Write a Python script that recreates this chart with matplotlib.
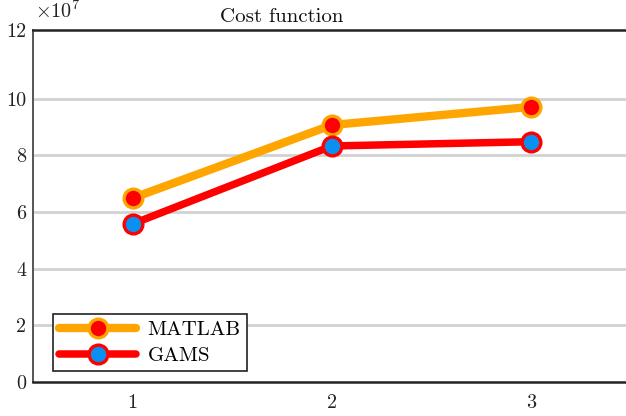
import matplotlib
matplotlib.use("Agg")
import matplotlib.pyplot as plt

plt.rcParams["font.family"] = ["cmr10", "DejaVu Serif"]
plt.rcParams["mathtext.fontset"] = "cm"
plt.rcParams["axes.unicode_minus"] = False

# cost per scenario, in units of 1e7
scenarios = [1, 2, 3]
matlab_cost = [6.49, 9.07, 9.71]
gams_cost = [5.58, 8.33, 8.48]
grid_ticks = [0, 2, 4, 6, 8, 10]
y_top = 12.42

ORANGE = "#FFA500"
RED = "#FF0000"
BLUE = "#0A90F0"

fig = plt.figure(figsize=(6.26, 4.16), dpi=100)
ax = fig.add_axes([0.0527, 0.0817, 0.955, 0.846])

ax.plot(scenarios, matlab_cost, color=ORANGE, lw=6, marker="o", ms=13.5,
        mfc=RED, mec=ORANGE, mew=2.4, solid_capstyle="round", label="MATLAB", zorder=3)
ax.plot(scenarios, gams_cost, color=RED, lw=5.4, marker="o", ms=13.5,
        mfc=BLUE, mec=RED, mew=2.4, solid_capstyle="round", label="GAMS", zorder=3)

ax.set_xlim(0.5, 3.5)
ax.set_ylim(0, y_top)
ax.set_xticks(scenarios)
ax.set_xticklabels([str(s) for s in scenarios])
ax.set_yticks(grid_ticks + [y_top])
ax.set_yticklabels([str(t) for t in grid_ticks] + ["12"])
ax.tick_params(length=0, labelsize=14.5, colors="#222222", pad=5)
ax.tick_params(axis="x", pad=9)

for t in grid_ticks[1:]:
    ax.axhline(t, color="#d2d2d2", lw=2, zorder=1)

ax.spines["right"].set_visible(False)
ax.spines["top"].set_color("#222222")
ax.spines["top"].set_linewidth(1.8)
ax.spines["bottom"].set_color("#222222")
ax.spines["bottom"].set_linewidth(1.8)
ax.spines["left"].set_color("#555555")
ax.spines["left"].set_linewidth(1.4)

leg = ax.legend(loc="lower left", bbox_to_anchor=(0.033, 0.031), fontsize=15,
                handlelength=3.7, handletextpad=0.55, borderpad=0.3,
                labelspacing=0.34, fancybox=False, framealpha=1, borderaxespad=0)
leg.get_frame().set_edgecolor("#222222")
leg.get_frame().set_linewidth(1.2)

fig.text(35 / 626, 1 - 18 / 416, r"$\times 10^{7}$", fontsize=14.5, color="#222222",
         ha="left", va="baseline")
fig.text(282 / 626, 1 - 22 / 416, "Cost function", fontsize=15, color="#111111",
         ha="center", va="baseline")

fig.savefig("out.png", dpi=100)
